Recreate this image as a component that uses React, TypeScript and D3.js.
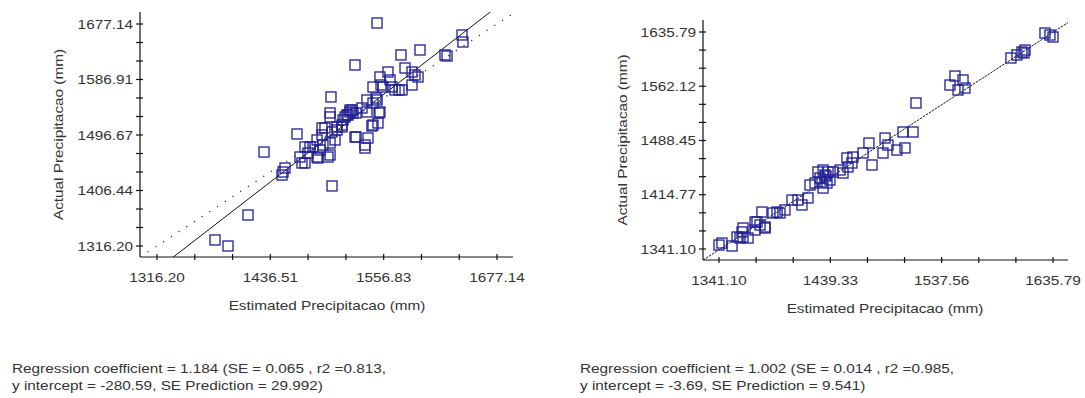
import React from "react";
import * as d3 from "d3";

// ---------- data ----------
const leftEstimated = [
  1377.8, 1391.6, 1412.8, 1429.8, 1464.8, 1502.0, 1500.9, 1526.4, 1549.8,
  1450.0, 1452.1, 1448.9,
  1468.0, 1470.1, 1473.3, 1476.5, 1473.3, 1478.6, 1481.8, 1486.1, 1486.1, 1487.1, 1489.2, 1491.4, 1491.4, 1492.4, 1494.5, 1497.7, 1499.9, 1499.9, 1499.9, 1499.9, 1502.0, 1505.2, 1507.3, 1507.3, 1512.6, 1512.6,
  1513.7, 1515.8, 1517.9, 1519.0, 1521.1, 1521.1, 1523.2, 1524.3, 1527.5, 1533.8, 1526.4, 1527.5, 1537.0, 1537.0, 1540.2, 1539.1, 1539.1, 1545.5, 1544.4, 1545.5, 1548.7, 1549.8, 1550.8, 1552.9, 1551.9,
  1545.5, 1554.0, 1556.1, 1552.9, 1561.4, 1563.6, 1565.7, 1568.9, 1573.1, 1576.3, 1579.5, 1586.9, 1590.1, 1593.3, 1586.9,
  1575.2, 1595.4, 1621.9, 1624.1, 1640.0, 1641.0,
];
const leftActual = [
  1326.0, 1316.2, 1366.6, 1469.0, 1498.3, 1413.8, 1558.5, 1610.5, 1678.8,
  1436.5, 1443.0, 1431.6,
  1460.9, 1451.2, 1451.2, 1467.4, 1477.2, 1477.2, 1477.2, 1488.6, 1460.9, 1459.3, 1472.3, 1496.7, 1508.1, 1480.4, 1508.1, 1460.9, 1483.7, 1464.2, 1526.0, 1532.5, 1501.6, 1488.6, 1509.7, 1504.8, 1512.9, 1509.7,
  1521.1, 1526.0, 1529.2, 1529.2, 1537.3, 1534.1, 1537.3, 1532.5, 1532.5, 1540.6, 1493.4, 1493.4, 1480.4, 1475.5, 1491.8, 1553.6, 1534.1, 1548.7, 1511.3, 1512.9, 1556.8, 1553.6, 1516.2, 1534.1, 1532.5,
  1574.7, 1578.0, 1574.7, 1591.0, 1599.1, 1586.1, 1574.7, 1569.9, 1569.9, 1569.9, 1605.6, 1599.1, 1594.2, 1591.0, 1578.0,
  1626.8, 1634.9, 1626.8, 1625.1, 1659.3, 1647.9,
];
const leftTicks = [1316.2, 1436.51, 1556.83, 1677.14];
const leftYTicks = [1316.2, 1406.44, 1496.67, 1586.91, 1677.14];
const leftRegression = { slope: 1.184, intercept: -280.59 };
const leftText = [
  "Regression coefficient = 1.184 (SE = 0.065 , r2 =0.813,",
  "y intercept = -280.59, SE Prediction = 29.992)",
];

const rightEstimated = [
  1341.1, 1352.6, 1343.7,
  1357.0, 1359.6, 1362.3, 1366.7, 1361.4, 1362.3,
  1372.9, 1374.6, 1377.3, 1381.7, 1372.9, 1381.7,
  1379.0, 1388.7, 1392.3, 1394.9, 1399.3,
  1405.5, 1410.8, 1414.3, 1419.6,
  1421.4, 1425.8, 1428.4, 1432.9, 1432.0, 1436.4, 1432.9, 1434.6,
  1430.2, 1435.5, 1437.3, 1439.0,
  1441.7, 1447.9, 1450.5, 1454.9, 1454.0, 1459.3, 1458.4,
  1468.2, 1473.4, 1476.1, 1485.8, 1487.6, 1490.2, 1498.1, 1505.2,
  1503.4, 1512.3, 1514.9,
  1544.9, 1549.3, 1552.0, 1556.4, 1558.1,
  1598.7, 1604.0, 1608.4, 1611.1, 1610.2,
  1628.7, 1633.1, 1635.8,
];
const rightActual = [
  1346.5, 1345.2, 1349.2,
  1357.4, 1356.0, 1357.4, 1356.0, 1364.2, 1369.6,
  1377.8, 1377.8, 1373.7, 1369.6, 1366.9, 1371.0,
  1391.3, 1390.0, 1391.3, 1390.0, 1394.1,
  1407.6, 1407.6, 1400.9, 1410.4,
  1428.0, 1430.7, 1445.7, 1448.4, 1432.1, 1430.7, 1423.9, 1441.6,
  1437.5, 1440.2, 1445.7, 1434.8,
  1445.7, 1448.4, 1444.3, 1452.5, 1464.7, 1466.0, 1457.9,
  1471.5, 1485.0, 1455.2, 1471.5, 1491.8, 1482.3, 1475.5, 1478.3,
  1500.0, 1500.0, 1539.4,
  1563.8, 1576.0, 1557.0, 1570.6, 1559.7,
  1600.5, 1604.6, 1608.6, 1611.3, 1607.3,
  1634.4, 1631.7, 1629.0,
];
const rightTicks = [1341.1, 1439.33, 1537.56, 1635.79];
const rightYTicks = [1341.1, 1414.77, 1488.45, 1562.12, 1635.79];
const rightRegression = { slope: 1.002, intercept: -3.69 };
const rightText = [
  "Regression coefficient = 1.002 (SE = 0.014 , r2 =0.985,",
  "y intercept = -3.69, SE Prediction = 9.541)",
];

const xTitle = "Estimated Precipitacao (mm)";
const yTitle = "Actual Precipitacao (mm)";

// ---------- layout ----------
const FONT = "'Liberation Sans', Arial, sans-serif";
const TEXT = "#333";
const MARK = "#1f1f92";
const SX = 1.18; // horizontal stretch of the original's lettering

function T(props: { x: number; y: number; anchor?: string; rotate?: number; children: React.ReactNode }) {
  const rot = props.rotate ? ` rotate(${props.rotate})` : "";
  return (
    <text
      transform={`translate(${props.x},${props.y})${rot} scale(${SX},1)`}
      textAnchor={props.anchor || "start"}
      fontSize={13}
      fill={TEXT}
      fontFamily={FONT}
    >
      {props.children}
    </text>
  );
}

type PanelProps = {
  id: string;
  xs: number[];
  ys: number[];
  xTicks: number[];
  yTicks: number[];
  reg: { slope: number; intercept: number };
  lines: string[];
  axisX: number;
  axisY: number;
  axisTop: number;
  axisRight: number;
  xRange: [number, number];
  yRange: [number, number];
  identity: boolean;
  regDash?: string;
  yTitleX: number;
  xTitleX: number;
  textX: number;
};

function Panel(p: PanelProps) {
  const x = d3.scaleLinear().domain([p.xTicks[0], p.xTicks[p.xTicks.length - 1]]).range(p.xRange);
  const y = d3.scaleLinear().domain([p.yTicks[0], p.yTicks[p.yTicks.length - 1]]).range(p.yRange);

  const xMinor: number[] = [];
  for (let i = 0; i < p.xTicks.length - 1; i++) {
    const a = p.xTicks[i], b = p.xTicks[i + 1];
    for (let k = 0; k < 3; k++) xMinor.push(a + ((b - a) * k) / 3);
  }
  xMinor.push(p.xTicks[p.xTicks.length - 1]);
  const yMinor: number[] = [];
  for (let i = 0; i < p.yTicks.length - 1; i++) {
    const a = p.yTicks[i], b = p.yTicks[i + 1];
    for (let k = 0; k < 3; k++) yMinor.push(a + ((b - a) * k) / 3);
  }
  yMinor.push(p.yTicks[p.yTicks.length - 1]);

  const x0 = x.invert(p.axisX), x1 = x.invert(p.axisRight);
  const line = d3.line<[number, number]>().x((d) => x(d[0])).y((d) => y(d[1]));
  const regPts: [number, number][] = [
    [x0, p.reg.slope * x0 + p.reg.intercept],
    [x1, p.reg.slope * x1 + p.reg.intercept],
  ];
  const idPts: [number, number][] = [
    [x0, x0],
    [x1, x1],
  ];
  const fmt = d3.format(".2f");
  const S = 10;
  const midY = (p.axisTop + p.axisY) / 2;

  return (
    <g>
      <defs>
        <clipPath id={p.id}>
          <rect x={p.axisX} y={p.axisTop} width={p.axisRight - p.axisX} height={p.axisY - p.axisTop} />
        </clipPath>
      </defs>
      <line x1={p.axisX} x2={p.axisX} y1={p.axisTop} y2={p.axisY} stroke="#111" strokeWidth={1.2} />
      <line x1={p.axisX} x2={p.axisRight} y1={p.axisY} y2={p.axisY} stroke="#111" strokeWidth={1.2} />
      {xMinor.map((t, i) => (
        <line key={"xm" + i} x1={x(t)} x2={x(t)} y1={p.axisY - 3} y2={p.axisY + 3} stroke="#111" strokeWidth={1.2} />
      ))}
      {yMinor.map((t, i) => (
        <line key={"ym" + i} x1={p.axisX - 4} x2={p.axisX + 3} y1={y(t)} y2={y(t)} stroke="#111" strokeWidth={1.2} />
      ))}
      {p.xTicks.map((t, i) => (
        <T key={"xt" + i} x={x(t)} y={p.axisY + 25} anchor="middle">
          {fmt(t)}
        </T>
      ))}
      {p.yTicks.map((t, i) => (
        <T key={"yt" + i} x={p.axisX - 7} y={y(t) + 4.5} anchor="end">
          {fmt(t)}
        </T>
      ))}
      <T x={p.xTitleX} y={p.axisY + 53} anchor="middle">
        {xTitle}
      </T>
      <T x={p.yTitleX} y={midY} anchor="middle" rotate={-90}>
        {yTitle}
      </T>
      <g clipPath={`url(#${p.id})`}>
        {p.identity && (
          <path d={line(idPts) || ""} fill="none" stroke="#222" strokeWidth={1.2} strokeDasharray="1.2 8" />
        )}
        <path d={line(regPts) || ""} fill="none" stroke="#111" strokeWidth={1} strokeDasharray={p.regDash} />
      </g>
      {p.xs.map((v, i) => (
        <rect
          key={"m" + i}
          x={x(v) - S / 2}
          y={y(p.ys[i]) - S / 2}
          width={S}
          height={S}
          fill="none"
          stroke={MARK}
          strokeWidth={1.3}
        />
      ))}
      {p.lines.map((s, i) => (
        <T key={"rt" + i} x={p.textX} y={373 + i * 17}>
          {s}
        </T>
      ))}
    </g>
  );
}

export default function App() {
  return (
    <svg width={1085} height={398} style={{ position: "absolute", left: 0, top: 0, background: "#fff" }}>
      <rect x={0} y={0} width={1085} height={398} fill="#fff" />
      <Panel
        id="clipL"
        xs={leftEstimated}
        ys={leftActual}
        xTicks={leftTicks}
        yTicks={leftYTicks}
        reg={leftRegression}
        lines={leftText}
        axisX={140}
        axisY={257}
        axisTop={12}
        axisRight={513}
        xRange={[157, 497]}
        yRange={[246, 24]}
        identity={true}
        yTitleX={63}
        xTitleX={327}
        textX={12}
      />
      <Panel
        id="clipR"
        xs={rightEstimated}
        ys={rightActual}
        xTicks={rightTicks}
        yTicks={rightYTicks}
        reg={rightRegression}
        lines={rightText}
        axisX={703}
        axisY={260}
        axisTop={20}
        axisRight={1068}
        xRange={[719, 1053]}
        yRange={[249, 32]}
        identity={false}
        regDash="2.5 1"
        yTitleX={627}
        xTitleX={885}
        textX={580}
      />
    </svg>
  );
}
